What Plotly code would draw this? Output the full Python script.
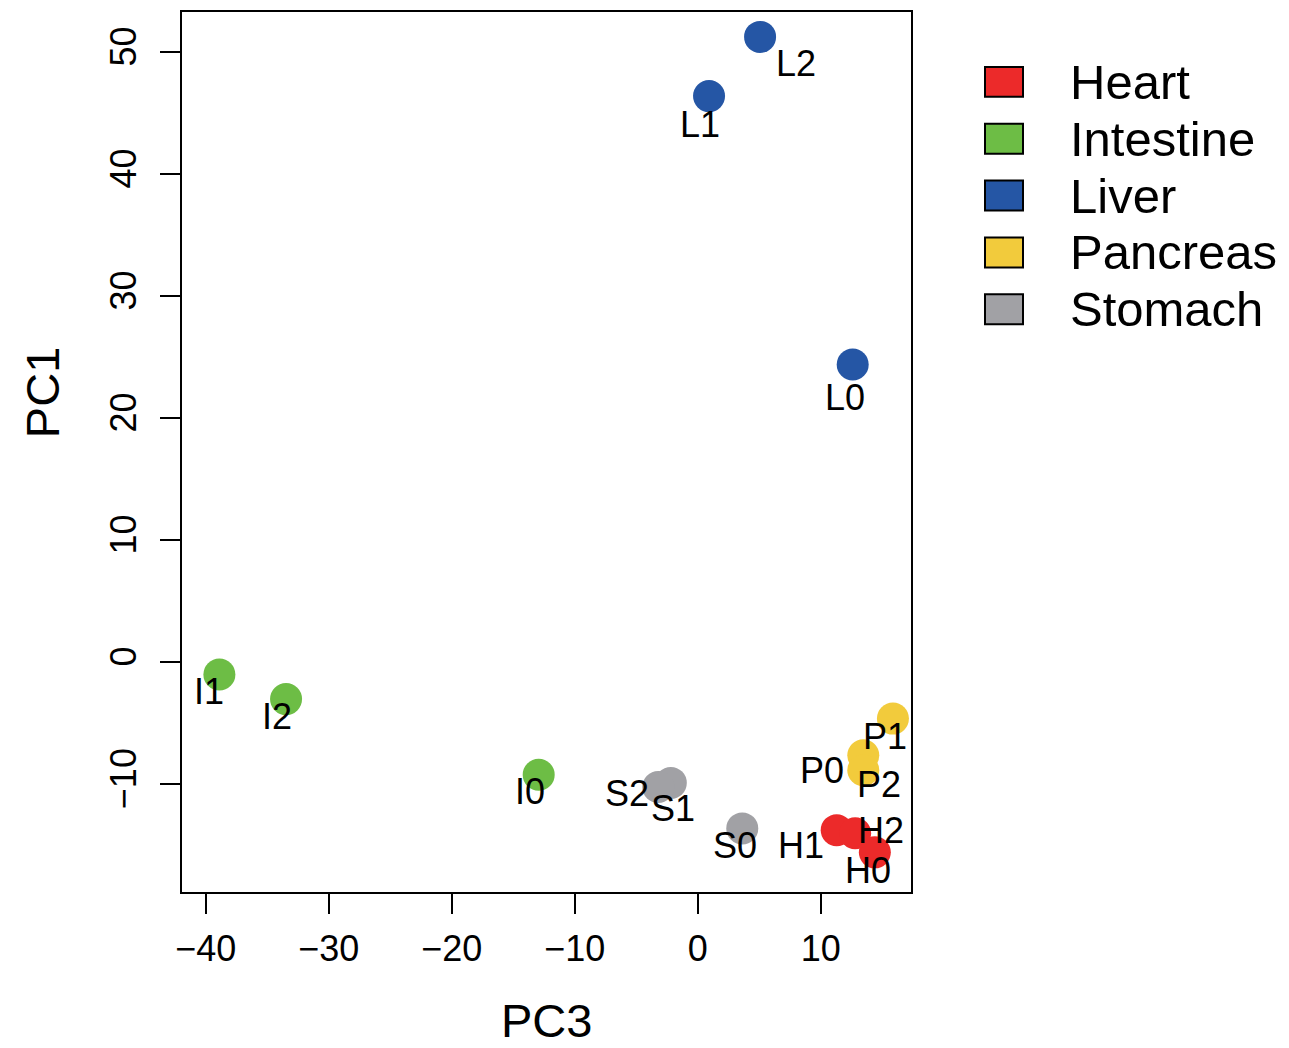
import plotly.graph_objects as go

# ---- data ----
tissues = ["Heart", "Intestine", "Liver", "Pancreas", "Stomach"]
tissue_colors = ["#EC2A2A", "#6DBD45", "#2556A5", "#F2CB3C", "#A1A1A5"]

sample_names = ["H0", "H1", "H2", "I0", "I1", "I2", "L0", "L1", "L2",
                "P0", "P1", "P2", "S0", "S1", "S2"]
sample_tissue = ["Heart", "Heart", "Heart", "Intestine", "Intestine", "Intestine",
                 "Liver", "Liver", "Liver", "Pancreas", "Pancreas", "Pancreas",
                 "Stomach", "Stomach", "Stomach"]
pc3 = [14.4, 11.3, 12.8, -12.93, -38.89, -33.47, 12.6, 0.92, 5.07,
       13.46, 15.87, 13.46, 3.62, -2.19, -3.21]
pc1 = [-15.6, -13.78, -14.04, -9.24, -1.02, -3.04, 24.38, 46.38, 51.23,
       -7.65, -4.64, -8.87, -13.64, -9.91, -10.24]

x_ticks = [-40, -30, -20, -10, 0, 10]
y_ticks = [-10, 0, 10, 20, 30, 40, 50]

# ---- label offsets (pixels, screen coords: +x right, +y down) ----
label_dx = [-7, -36, 26, -9, -10, -9, -8, -9, 36, -41, -8, 16, -7, 2, -31]
label_dy = [19, 16, -2, 18, 18, 18, 34, 29, 28, 16, 19, 15, 18, 27, 8]

# ---- layout geometry (pixels) ----
W, H = 1289, 1048
L, R, T, B = 182, 911, 10, 892
PW, PH = R - L, B - T

def pxx(px):
    return (px - L) / PW

def pxy(py):
    return (B - py) / PH

FONT = "Liberation Sans, Arial, Helvetica, sans-serif"
color_of = dict(zip(tissues, tissue_colors))

fig = go.Figure()
for t in tissues:
    xs = [x for x, tt in zip(pc3, sample_tissue) if tt == t]
    ys = [y for y, tt in zip(pc1, sample_tissue) if tt == t]
    fig.add_trace(go.Scatter(
        x=xs, y=ys, mode="markers", name=t, showlegend=False,
        marker=dict(size=32, color=color_of[t], line=dict(width=0)),
    ))

annotations = []
for name, x, y, dx, dy in zip(sample_names, pc3, pc1, label_dx, label_dy):
    annotations.append(dict(
        x=x, y=y, xref="x", yref="y", text=name, showarrow=False,
        xshift=dx, yshift=-dy + 1, xanchor="center", yanchor="middle",
        font=dict(family=FONT, size=36, color="black"),
    ))

# axis titles
annotations.append(dict(
    x=pxx(546), y=pxy(1021), xref="paper", yref="paper", text="PC3",
    showarrow=False, xanchor="center", yanchor="middle",
    font=dict(family=FONT, size=47, color="black"),
))
annotations.append(dict(
    x=pxx(42), y=pxy(392), xref="paper", yref="paper", text="PC1",
    showarrow=False, xanchor="center", yanchor="middle", textangle=-90,
    font=dict(family=FONT, size=47, color="black"),
))

# manual legend
shapes = []
leg_y = [80, 137, 194, 251, 308]
for t, c, cy in zip(tissues, tissue_colors, leg_y):
    shapes.append(dict(
        type="rect", xref="paper", yref="paper",
        x0=pxx(985), x1=pxx(1023), y0=pxy(cy + 15), y1=pxy(cy - 15),
        fillcolor=c, line=dict(color="black", width=2),
    ))
    annotations.append(dict(
        x=pxx(1068), y=pxy(cy), xref="paper", yref="paper", text=t,
        showarrow=False, xanchor="left", yanchor="middle",
        font=dict(family=FONT, size=49, color="black"),
    ))

x_lo = -41.93
x_hi = 17.34
y_lo = -18.85
y_hi = 53.27

fig.update_layout(
    width=W, height=H,
    margin=dict(l=L, r=W - R, t=T, b=H - B, pad=0),
    plot_bgcolor="white", paper_bgcolor="white",
    showlegend=False,
    font=dict(family=FONT, color="black"),
    xaxis=dict(
        range=[x_lo, x_hi], tickvals=x_ticks,
        ticktext=[str(v).replace("-", "\u2212") for v in x_ticks],
        showgrid=False, zeroline=False,
        showline=True, mirror=True, linecolor="black", linewidth=2,
        ticks="outside", ticklen=20, tickwidth=1.5, tickcolor="black",
        tickfont=dict(family=FONT, size=36, color="black"),
        ticklabelstandoff=4,
    ),
    yaxis=dict(
        range=[y_lo, y_hi], tickvals=y_ticks,
        ticktext=[str(v).replace("-", "\u2212") for v in y_ticks],
        showgrid=False, zeroline=False,
        showline=True, mirror=True, linecolor="black", linewidth=2,
        ticks="outside", ticklen=20, tickwidth=1.5, tickcolor="black",
        tickfont=dict(family=FONT, size=36, color="black"),
        tickangle=-90, ticklabelstandoff=10,
    ),
    annotations=annotations,
    shapes=shapes,
)

fig.write_html("out.html",
               config={"displayModeBar": False},
               post_script="document.body.style.margin='0px';document.body.style.overflow='hidden';")
